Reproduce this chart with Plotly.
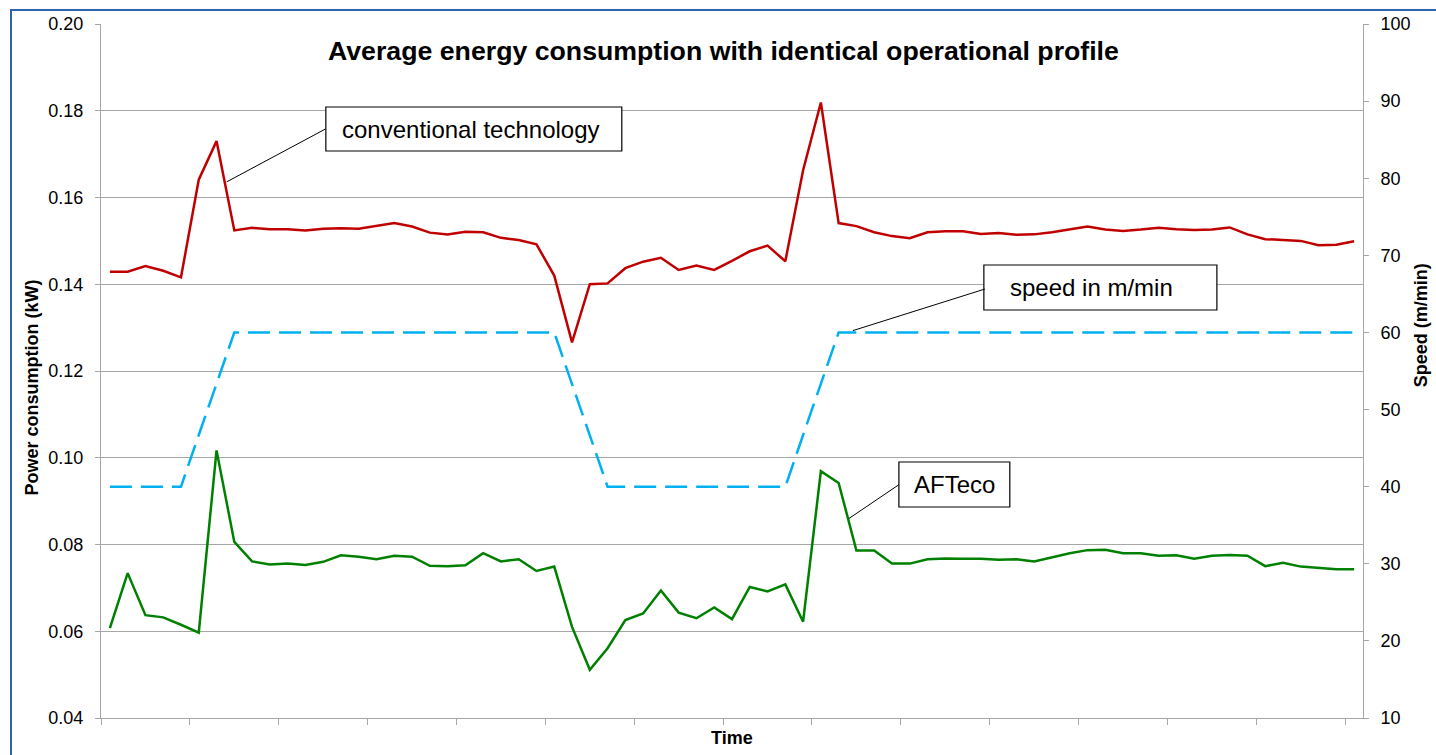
import plotly.graph_objects as go

# ---- data ----
time_index = list(range(71))

conventional = [0.1429, 0.1429, 0.1442, 0.1431, 0.1416, 0.1641, 0.1730, 0.1524, 0.1530, 0.1527,
                0.1527, 0.1524, 0.1528, 0.1529, 0.1528, 0.1535, 0.1541, 0.1533, 0.1519, 0.1515,
                0.1521, 0.1520, 0.1507, 0.1502, 0.1492, 0.1420, 0.1266, 0.1400, 0.1402, 0.1437,
                0.1452, 0.1461, 0.1433, 0.1443, 0.1433, 0.1454, 0.1476, 0.1489, 0.1453, 0.1663,
                0.1819, 0.1541, 0.1534, 0.1520, 0.1511, 0.1506, 0.1520, 0.1522, 0.1522, 0.1516,
                0.1518, 0.1514, 0.1515, 0.1520, 0.1526, 0.1533, 0.1526, 0.1523, 0.1526, 0.1530,
                0.1527, 0.1525, 0.1526, 0.1531, 0.1515, 0.1504, 0.1502, 0.1500, 0.1490, 0.1491,
                0.1499]

afteco = [0.0607, 0.0734, 0.0637, 0.0632, 0.0615, 0.0597, 0.1017, 0.0806, 0.0761, 0.0754,
          0.0756, 0.0753, 0.0760, 0.0775, 0.0772, 0.0766, 0.0774, 0.0772, 0.0751, 0.0750,
          0.0752, 0.0780, 0.0761, 0.0766, 0.0739, 0.0749, 0.0610, 0.0511, 0.0561, 0.0626,
          0.0641, 0.0694, 0.0643, 0.0630, 0.0655, 0.0628, 0.0702, 0.0692, 0.0708, 0.0622,
          0.0969, 0.0942, 0.0786, 0.0786, 0.0756, 0.0756, 0.0766, 0.0768, 0.0767, 0.0767,
          0.0765, 0.0766, 0.0761, 0.0771, 0.0780, 0.0787, 0.0788, 0.0780, 0.0780, 0.0774,
          0.0775, 0.0767, 0.0774, 0.0776, 0.0774, 0.0750, 0.0758, 0.0749, 0.0746, 0.0743,
          0.0743]

speed = [40, 40, 40, 40, 40, 46.7, 53.3, 60, 60, 60,
         60, 60, 60, 60, 60, 60, 60, 60, 60, 60,
         60, 60, 60, 60, 60, 60, 53.3, 46.7, 40, 40,
         40, 40, 40, 40, 40, 40, 40, 40, 40, 46.7,
         53.3, 60, 60, 60, 60, 60, 60, 60, 60, 60,
         60, 60, 60, 60, 60, 60, 60, 60, 60, 60,
         60, 60, 60, 60, 60, 60, 60, 60, 60, 60,
         60]

power_ticks = [0.04, 0.06, 0.08, 0.10, 0.12, 0.14, 0.16, 0.18, 0.20]
speed_ticks = [10, 20, 30, 40, 50, 60, 70, 80, 90, 100]
time_tick_positions = [-0.5, 4.5, 9.5, 14.5, 19.5, 24.5, 29.5, 34.5, 39.5, 44.5, 49.5, 54.5, 59.5, 64.5, 69.5]

title_text = "Average energy consumption with identical operational profile"
label_conv = "conventional technology"
label_speed = "speed in m/min"
label_aft = "AFTeco"

FONT = "Liberation Sans, Arial, sans-serif"
GRID = "#a6a6a6"

fig = go.Figure()
fig.add_trace(go.Scatter(x=time_index, y=conventional, mode="lines",
                         line=dict(color="#c00000", width=2.5), name="conventional technology"))
fig.add_trace(go.Scatter(x=time_index, y=afteco, mode="lines",
                         line=dict(color="#008000", width=2.5), name="AFTeco"))
fig.add_trace(go.Scatter(x=time_index, y=speed, mode="lines", yaxis="y2",
                         line=dict(color="#00b0f0", width=2.5, dash="22px,9px"), name="speed"))

fig.update_layout(
    width=1436, height=755,
    margin=dict(l=101, r=73, t=24, b=37),
    paper_bgcolor="white", plot_bgcolor="white",
    showlegend=False,
    font=dict(family=FONT, color="#000000"),
    xaxis=dict(range=[-0.5, 70.5], tickmode="array", tickvals=time_tick_positions,
               ticktext=[""] * len(time_tick_positions), ticks="outside", ticklen=6,
               tickcolor=GRID, showgrid=False, showline=True, linecolor=GRID, linewidth=1,
               zeroline=False, automargin=False),
    yaxis=dict(range=[0.04, 0.20], tickmode="array", tickvals=power_ticks,
               tickformat=".2f", ticks="outside", ticklen=5, tickcolor=GRID,
               showgrid=True, gridcolor=GRID, gridwidth=1, showline=True, linecolor=GRID,
               zeroline=False, tickfont=dict(size=18, family=FONT, color="#000"),
               ticklabelstandoff=8, automargin=False),
    yaxis2=dict(range=[10, 100], tickmode="array", tickvals=speed_ticks, overlaying="y",
                side="right", ticks="outside", ticklen=5, tickcolor=GRID, showgrid=False,
                showline=True, linecolor=GRID, zeroline=False,
                tickfont=dict(size=18, family=FONT, color="#000"), ticklabelstandoff=8,
                automargin=False),
)

# outer blue frame
fig.add_shape(type="rect", xref="paper", yref="paper",
              x0=(11 - 101) / 1262, x1=1.3, y0=-0.3, y1=(718 - 10) / 694,
              line=dict(color="#2e62b4", width=2), fillcolor="rgba(0,0,0,0)", layer="below")

# title and axis titles
fig.add_annotation(text="<b>" + title_text + "</b>", xref="paper", yref="paper",
                   x=0.4929, y=0.961, xanchor="center", yanchor="middle", showarrow=False,
                   font=dict(size=26.7, family=FONT, color="#000"))
fig.add_annotation(text="<b>Power consumption (kW)</b>", xref="paper", yref="paper",
                   x=-0.0547, y=0.476, xanchor="center", yanchor="middle", textangle=-90,
                   showarrow=False, font=dict(size=18, family=FONT, color="#000"))
fig.add_annotation(text="<b>Speed (m/min)</b>", xref="paper", yref="paper",
                   x=1.046, y=0.566, xanchor="center", yanchor="middle", textangle=-90,
                   showarrow=False, font=dict(size=18, family=FONT, color="#000"))
fig.add_annotation(text="<b>Time</b>", xref="paper", yref="paper",
                   x=0.5, y=-0.0288, xanchor="center", yanchor="middle", showarrow=False,
                   font=dict(size=18, family=FONT, color="#000"))

# label boxes (data coordinates)
boxes = [
    dict(x0=12.15, x1=28.80, y0=0.17072, y1=0.18086),
    dict(x0=49.17, x1=62.28, y0=0.13406, y1=0.14444),
    dict(x0=44.39, x1=50.63, y0=0.08865, y1=0.09902),
]
for b in boxes:
    fig.add_shape(type="rect", xref="x", yref="y", **b,
                  line=dict(color="#000000", width=1.2), fillcolor="white", layer="above")

leaders = [
    dict(x0=12.13, y0=0.1758, x1=6.57, y1=0.1636),
    dict(x0=49.23, y0=0.1389, x1=41.8, y1=0.12931),
    dict(x0=44.39, y0=0.09379, x1=41.57, y1=0.08597),
]
for ld in leaders:
    fig.add_shape(type="line", xref="x", yref="y", **ld,
                  line=dict(color="#000000", width=1), layer="above")

fig.add_annotation(text=label_conv, xref="x", yref="y", x=20.3, y=0.17579,
                   xanchor="center", yanchor="middle", showarrow=False,
                   font=dict(size=24, family=FONT, color="#000"))
fig.add_annotation(text=label_speed, xref="x", yref="y", x=50.5, y=0.13925,
                   xanchor="left", yanchor="middle", showarrow=False,
                   font=dict(size=24, family=FONT, color="#000"))
fig.add_annotation(text=label_aft, xref="x", yref="y", x=47.5, y=0.09383,
                   xanchor="center", yanchor="middle", showarrow=False,
                   font=dict(size=24, family=FONT, color="#000"))

fig.write_html("out.html", config={"displayModeBar": False},
               post_script="document.body.style.margin='0px';document.body.style.overflow='hidden';")
